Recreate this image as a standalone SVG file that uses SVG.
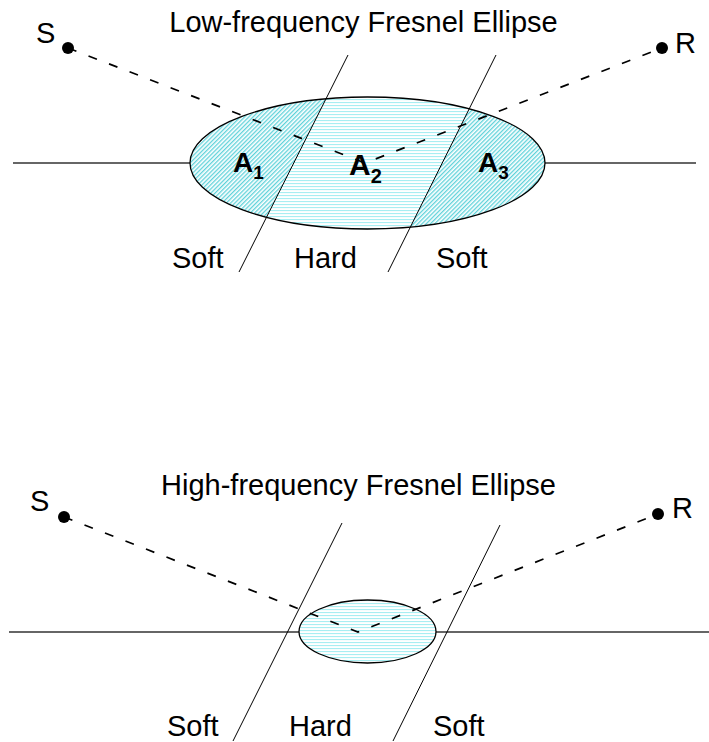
<svg xmlns="http://www.w3.org/2000/svg" width="709" height="742" viewBox="0 0 709 742">
<style>
text{font-family:"Liberation Sans",Arial,sans-serif;fill:#000}
.t{font-size:29px}
.a{font-size:28px;font-weight:bold}
.sub{font-size:19px;font-weight:bold}
.ground{stroke:#333;stroke-width:1.3;fill:none}
.bound{stroke:#000;stroke-width:1;fill:none}
.ray{stroke:#000;stroke-width:1.7;fill:none;stroke-dasharray:9 13}
.ell{stroke:#000;stroke-width:1.3;fill:none}
</style>
<defs>
<pattern id="diag" patternUnits="userSpaceOnUse" width="3" height="3" patternTransform="rotate(45)">
<rect width="3" height="3" fill="#fff"/><rect width="1.3" height="3" fill="#5fd2da"/>
</pattern>
<pattern id="horiz" patternUnits="userSpaceOnUse" width="4" height="3">
<rect width="4" height="3" fill="#fff"/><rect width="4" height="1.1" fill="#a8eef2"/>
</pattern>
<clipPath id="clipTop"><ellipse cx="367.5" cy="163" rx="177.5" ry="66"/></clipPath>
</defs>

<g id="top-diagram">
<text id="title-low" class="t" x="363.5" y="32" text-anchor="middle">Low-frequency Fresnel Ellipse</text>
<line class="ground" x1="13" y1="163" x2="696" y2="163"/>
<g id="ellipse-low">
<g clip-path="url(#clipTop)">
<polygon id="region-A1" fill="url(#diag)" points="180,80 335.4,80 250.1,250 180,250"/>
<polygon id="region-A2" fill="url(#horiz)" points="335.4,80 483.6,80 398.9,250 250.1,250"/>
<polygon id="region-A3" fill="url(#diag)" points="483.6,80 560,80 560,250 398.9,250"/>
</g>
<ellipse class="ell" cx="367.5" cy="163" rx="177.5" ry="66"/>
</g>
<g id="boundaries-low">
<line class="bound" x1="348" y1="55" x2="239" y2="272"/>
<line class="bound" x1="496" y1="55" x2="388" y2="272"/>
</g>
<g id="connectors-low">
<polyline class="ray" points="68,48 365,163 662,48"/>
</g>
<g id="node-S-low"><circle cx="68" cy="48" r="6"/><text class="t" x="36" y="43">S</text></g>
<g id="node-R-low"><circle cx="662" cy="48" r="6"/><text class="t" x="675" y="53">R</text></g>
<g id="labels-A">
<text class="a" x="233" y="172">A<tspan class="sub" dy="7">1</tspan></text>
<text class="a" x="349" y="175" style="font-size:30px">A<tspan class="sub" dy="8" style="font-size:20px">2</tspan></text>
<text class="a" x="478" y="172">A<tspan class="sub" dy="7">3</tspan></text>
</g>
<g id="zone-labels-low">
<text class="t" x="172" y="268">Soft</text>
<text class="t" x="294" y="268">Hard</text>
<text class="t" x="436" y="268">Soft</text>
</g>
</g>

<g id="bottom-diagram">
<text id="title-high" class="t" x="358.5" y="495" text-anchor="middle">High-frequency Fresnel Ellipse</text>
<line class="ground" x1="9" y1="632" x2="709" y2="632"/>
<g id="ellipse-high">
<ellipse cx="367.5" cy="631.5" rx="68.5" ry="31.5" fill="url(#horiz)"/>
<ellipse class="ell" cx="367.5" cy="631.5" rx="68.5" ry="31.5"/>
</g>
<g id="boundaries-high">
<line class="bound" x1="342" y1="523" x2="233" y2="741"/>
<line class="bound" x1="500" y1="525" x2="393" y2="741"/>
</g>
<g id="connectors-high">
<polyline class="ray" points="64,517 358,632 658,514"/>
</g>
<g id="node-S-high"><circle cx="64" cy="517" r="6"/><text class="t" x="30" y="511">S</text></g>
<g id="node-R-high"><circle cx="658" cy="514" r="6"/><text class="t" x="672" y="518">R</text></g>
<g id="zone-labels-high">
<text class="t" x="167" y="736">Soft</text>
<text class="t" x="289" y="736">Hard</text>
<text class="t" x="433" y="736">Soft</text>
</g>
</g>
</svg>
